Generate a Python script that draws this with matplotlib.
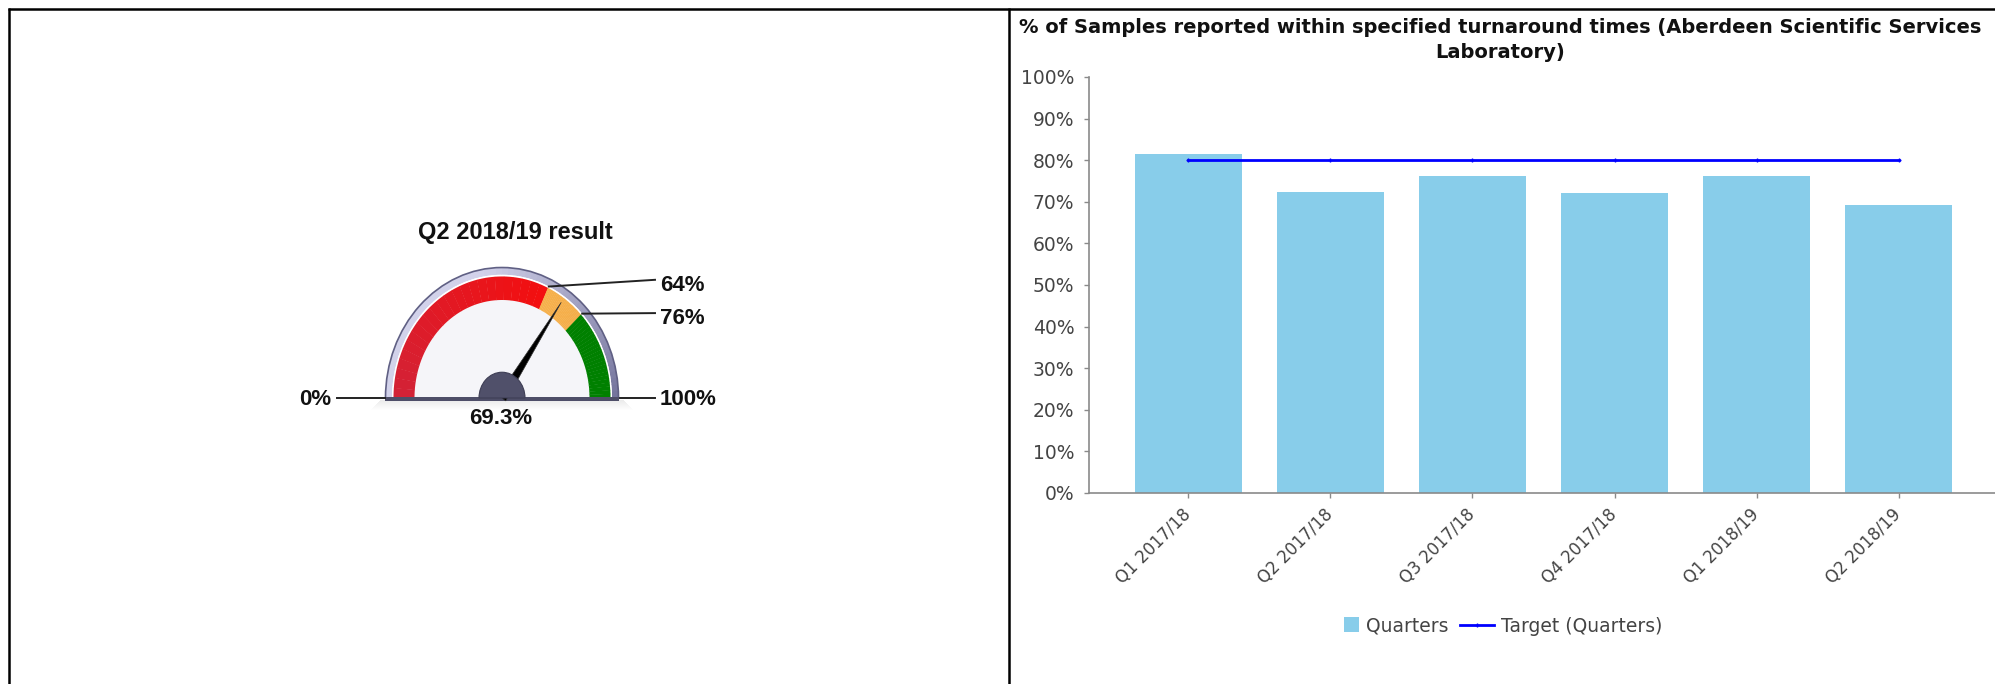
import numpy as np
import matplotlib
matplotlib.use("Agg")
import matplotlib.pyplot as plt
import matplotlib.patches as mpatches
from matplotlib.legend_handler import HandlerPatch
from matplotlib.transforms import Affine2D
from matplotlib.colors import to_rgb

# Quarterly turnaround results
quarters = ["Q1 2017/18", "Q2 2017/18", "Q3 2017/18", "Q4 2017/18", "Q1 2018/19", "Q2 2018/19"]
pct_reported = [81.5, 72.4, 76.3, 72.0, 76.3, 69.3]
target_pct = [80, 80, 80, 80, 80, 80]

# Gauge for the latest quarter
gauge_title = "Q2 2018/19 result"
gauge_value = 69.3
gauge_min, gauge_max = 0, 100
band_edges = [0, 64, 76, 100]
band_colors = [("#d32236", "#f40e0e"), ("#f6b04b", "#f4ae4a"), ("#008000", "#008000")]

W, H = 1995, 684
fig = plt.figure(figsize=(W / 100, H / 100), dpi=100, facecolor="white")

# full-figure layer in pixel units for the frame and the gauge
ov = fig.add_axes([0, 0, 1, 1])
ov.set_xlim(0, W)
ov.set_ylim(H, 0)
ov.axis("off")

frame = dict(color="black", lw=1.8, solid_capstyle="butt")
ov.plot([8, W], [8.5, 8.5], **frame)
ov.plot([8.5, 8.5], [8, H], **frame)
ov.plot([1008.5, 1008.5], [8, H], **frame)

# gauge coordinates: origin at the pivot, y up, slightly stretched vertically
cx, cy, stretch = 502, 398, 1.12
gt = Affine2D().scale(1, -stretch).translate(cx, cy) + ov.transData


def val_to_angle(v):
    return 180 - 180 * (v - gauge_min) / (gauge_max - gauge_min)


def mix(c0, c1, f):
    return tuple(np.array(to_rgb(c0)) * (1 - f) + np.array(to_rgb(c1)) * f)


# soft shadow under the base
for i in range(10):
    ov.add_patch(mpatches.Rectangle((cx - 122 - i, cy + 2 + i), 244 + 2 * i, 1.2,
                                    color="black", alpha=0.08 * (1 - i / 10), lw=0))

# bezel
steps = np.linspace(0, 180, 61)
for a0, a1 in zip(steps[:-1], steps[1:]):
    f = np.clip(((a0 + a1) / 2) / 180 * 1.8, 0, 1)
    ov.add_patch(mpatches.Wedge((0, 0), 116.5, a0, a1 + 0.4, width=6.5,
                                fc=mix("#74749c", "#d2d2ea", f), ec="none", transform=gt))
ov.add_patch(mpatches.Arc((0, 0), 233, 233, theta1=0, theta2=180, color="#606084", lw=1.2, transform=gt))
ov.add_patch(mpatches.Wedge((0, 0), 110, 0, 180, width=2, fc="white", ec="none", transform=gt))
ov.add_patch(mpatches.Wedge((0, 0), 108.5, 0, 180, fc="#f5f5f9", ec="none", transform=gt))

# coloured bands
for lo, hi, (c0, c1) in zip(band_edges[:-1], band_edges[1:], band_colors):
    vals = np.linspace(lo, hi, 25)
    for v0, v1 in zip(vals[:-1], vals[1:]):
        f = (v0 - lo) / (hi - lo)
        ov.add_patch(mpatches.Wedge((0, 0), 108.5, val_to_angle(v1), val_to_angle(v0) + 0.2,
                                    width=21, fc=mix(c0, c1, f), ec="none", transform=gt))

# base stripe
ov.add_patch(mpatches.Rectangle((cx - 117, cy - 1.5), 234, 4.5, color="#4e4e68", lw=0))

# needle and hub
th = np.radians(val_to_angle(gauge_value))
d = np.array([np.cos(th), np.sin(th)])
n = np.array([-d[1], d[0]])
needle = np.array([d * 104, n * 4.5, -n * 4.5])
ov.add_patch(mpatches.Polygon(needle, closed=True, fc="black", ec="#333333", lw=0.5, transform=gt))
ov.add_patch(mpatches.Wedge((0, 0), 23, 0, 180, fc="#50506a", ec="#3e3e55", lw=0.8, transform=gt))

# threshold labels
gfont = dict(family="Liberation Sans", weight="bold", color="#111111")
ov.plot([-165, -117], [0, 0], color="#222222", lw=1.4, transform=gt)
ov.plot([118, 153], [0, 0], color="#222222", lw=1.4, transform=gt)
ov.text(-171, -1.5, f"{gauge_min}%", ha="right", va="center", fontsize=16, transform=gt, **gfont)
ov.text(158, -1.5, f"{gauge_max}%", ha="left", va="center", fontsize=16, transform=gt, **gfont)

label_rise = {64: 6, 76: 0.5}
for v in band_edges[1:-1]:
    a = np.radians(val_to_angle(v))
    x0, y0 = 110 * np.cos(a), 110 * np.sin(a)
    y1 = y0 + label_rise[v]
    ov.plot([x0, 153], [y0, y1], color="#222222", lw=1.4, transform=gt)
    ov.text(158, y1 - 5, f"{v}%", ha="left", va="center", fontsize=16, transform=gt, **gfont)

ov.text(-1, -18.5, f"{gauge_value}%", ha="center", va="center", fontsize=16, transform=gt, **gfont)
ov.text(13, 148, gauge_title, ha="center", va="center", fontsize=17, transform=gt, **gfont)

# bar chart
ax = fig.add_axes([1089 / W, (H - 493) / H, 909 / W, 416 / H])
ax.patch.set_alpha(0)
x = np.arange(len(quarters))
bars = ax.bar(x, pct_reported, width=0.75, color="#88cdea", label="Quarters", zorder=2)
line, = ax.plot(x, target_pct, color="#0000ff", lw=2, marker="+", ms=3, mew=1,
                label="Target (Quarters)", zorder=3)

ax.set_xlim(-0.7, len(quarters) - 0.3)
ax.set_ylim(0, 100)
ax.set_yticks(range(0, 101, 10))
ax.set_yticklabels([f"{v}%" for v in range(0, 101, 10)])
ax.set_xticks(x)
ax.set_xticklabels(quarters, rotation=45, ha="right", va="center", rotation_mode="anchor")

for side in ["top", "right"]:
    ax.spines[side].set_visible(False)
for side in ["left", "bottom"]:
    ax.spines[side].set_color("#8a8a8a")
    ax.spines[side].set_linewidth(1.2)
ax.tick_params(colors="#8a8a8a", labelcolor="#444444", length=3.6, width=1)
ax.tick_params(axis="y", labelsize=13.5, pad=7)
ax.tick_params(axis="x", labelsize=12, pad=10)

fig.text(1500 / W, 1 - 18 / H,
         "% of Samples reported within specified turnaround times (Aberdeen Scientific Services\nLaboratory)",
         ha="center", va="top", fontsize=14, fontweight="bold", linespacing=1.4, color="#111111")


def square_swatch(legend, orig_handle, xdescent, ydescent, width, height, fontsize):
    side = 0.8 * fontsize
    return mpatches.Rectangle((width - side - xdescent, -ydescent + (height - side) / 2), side, side)


bar_handle = bars.patches[0]
fig.legend([bar_handle, line], ["Quarters", "Target (Quarters)"], loc="center",
           bbox_to_anchor=(1494 / W, 1 - 626 / H), ncol=2, frameon=False, fontsize=13.5,
           handlelength=1.8, handletextpad=0.4, columnspacing=0.6, labelcolor="#444444",
           handler_map={bar_handle: HandlerPatch(patch_func=square_swatch)})

fig.savefig("out.png", dpi=100, facecolor="white")
